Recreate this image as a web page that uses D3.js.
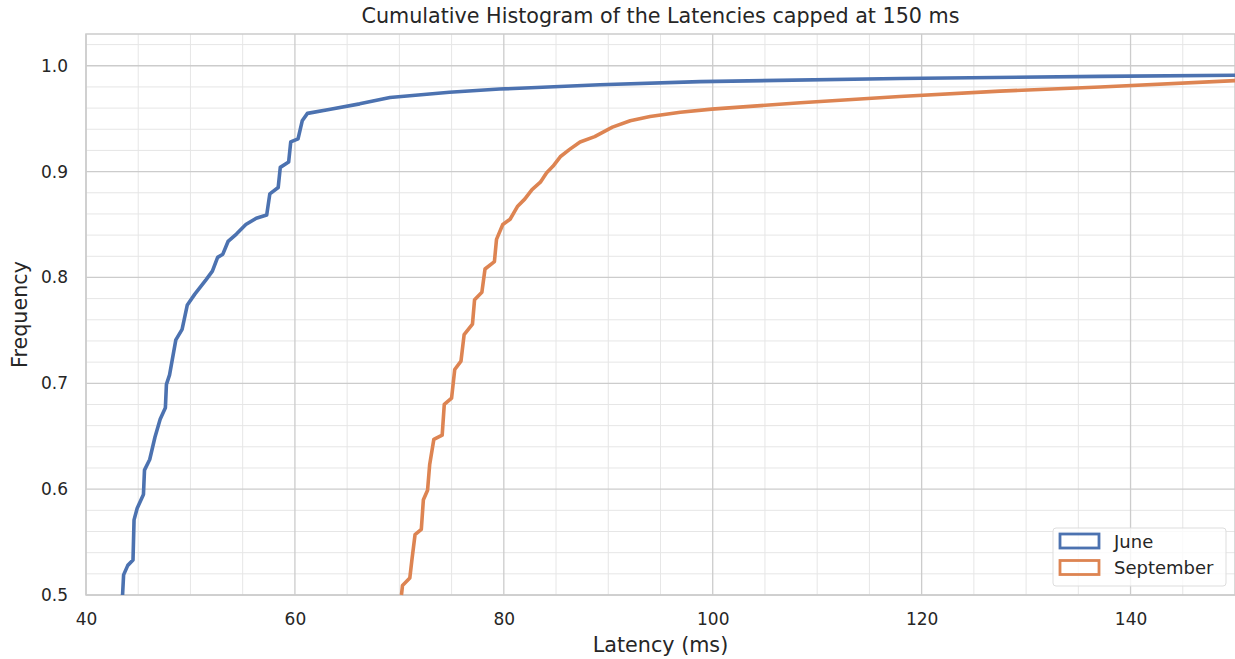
<!DOCTYPE html>
<html>
<head>
<meta charset="utf-8">
<script src="https://cdn.jsdelivr.net/npm/d3@7"></script>
<style>
  body { margin: 0; background: #fff; }
  text { font-family: "DejaVu Sans", sans-serif; fill: #262626; }
</style>
</head>
<body>
<div id="chart"></div>
<script>
// cumulative frequency, [latency ms, frequency]
var juneLatency = [43.5, 43.6, 44.0, 44.5, 44.6, 44.9, 45.5, 45.6, 46.1, 46.6, 47.1, 47.6, 47.7, 48.0, 48.6, 49.2, 49.7, 50.4, 51.5, 52.1, 52.6, 53.1, 53.6, 54.4, 55.3, 56.3, 57.3, 57.6, 58.4, 58.6, 59.4, 59.6, 60.3, 60.7, 61.2, 63.4, 66.2, 69.1, 74.8, 79.6, 89.2, 98.8, 117.9, 137.1, 150];
var juneFreq = [0.500, 0.519, 0.528, 0.533, 0.571, 0.582, 0.595, 0.618, 0.628, 0.649, 0.666, 0.677, 0.699, 0.708, 0.741, 0.751, 0.774, 0.784, 0.798, 0.806, 0.819, 0.822, 0.834, 0.841, 0.850, 0.856, 0.859, 0.879, 0.885, 0.904, 0.909, 0.928, 0.931, 0.948, 0.955, 0.959, 0.964, 0.970, 0.975, 0.978, 0.982, 0.985, 0.988, 0.990, 0.991];

var septLatency = [70.2, 70.3, 71.0, 71.2, 71.5, 72.1, 72.3, 72.7, 72.9, 73.3, 74.1, 74.3, 75.0, 75.3, 75.9, 76.2, 77.0, 77.2, 77.9, 78.2, 79.1, 79.3, 79.9, 80.6, 81.3, 82.0, 82.7, 83.5, 84.1, 84.7, 85.4, 86.3, 87.3, 88.7, 90.4, 92.1, 94.0, 96.9, 99.9, 108.4, 117.9, 127.5, 137.1, 150];
var septFreq = [0.500, 0.509, 0.516, 0.533, 0.557, 0.562, 0.590, 0.599, 0.623, 0.647, 0.651, 0.680, 0.686, 0.713, 0.721, 0.746, 0.756, 0.779, 0.786, 0.808, 0.815, 0.836, 0.850, 0.855, 0.867, 0.874, 0.883, 0.890, 0.899, 0.905, 0.914, 0.921, 0.928, 0.933, 0.942, 0.948, 0.952, 0.956, 0.959, 0.965, 0.971, 0.976, 0.980, 0.986];

var seriesNames = ["June", "September"];
var seriesColors = ["#4c72b0", "#dd8452"];
var xTicks = [40, 60, 80, 100, 120, 140];
var yTicks = [0.5, 0.6, 0.7, 0.8, 0.9, 1.0];

var width = 1235, height = 659;
var margin = { top: 34, right: 0, bottom: 64, left: 86 };

var svg = d3.select("#chart").append("svg")
    .attr("width", width)
    .attr("height", height);

var x = d3.scaleLinear().domain([40, 150]).range([margin.left, width - margin.right]);
var y = d3.scaleLinear().domain([0.5, 1.03]).range([height - margin.bottom, margin.top]);

var grid = svg.append("g");

// minor grid
grid.selectAll("line.xminor")
    .data(d3.range(45, 150, 5).filter(function (d) { return d % 20 != 0; }))
    .enter().append("line")
    .attr("x1", function (d) { return x(d); })
    .attr("x2", function (d) { return x(d); })
    .attr("y1", y(0.5)).attr("y2", y(1.03))
    .style("stroke", "#e6e6e6").style("stroke-width", "1px");

grid.selectAll("line.yminor")
    .data(d3.range(0.52, 1.03, 0.02).filter(function (d) { return Math.abs(d * 10 - Math.round(d * 10)) > 0.01; }))
    .enter().append("line")
    .attr("x1", x(40)).attr("x2", x(150))
    .attr("y1", function (d) { return y(d); })
    .attr("y2", function (d) { return y(d); })
    .style("stroke", "#e6e6e6").style("stroke-width", "1px");

// major grid
grid.selectAll("line.xmajor")
    .data(xTicks)
    .enter().append("line")
    .attr("x1", function (d) { return x(d); })
    .attr("x2", function (d) { return x(d); })
    .attr("y1", y(0.5)).attr("y2", y(1.03))
    .style("stroke", "#cccccc").style("stroke-width", "1.3px");

grid.selectAll("line.ymajor")
    .data(yTicks)
    .enter().append("line")
    .attr("x1", x(40)).attr("x2", x(150))
    .attr("y1", function (d) { return y(d); })
    .attr("y2", function (d) { return y(d); })
    .style("stroke", "#cccccc").style("stroke-width", "1.3px");

// spines
svg.append("rect")
    .attr("x", x(40)).attr("y", y(1.03))
    .attr("width", x(150) - x(40)).attr("height", y(0.5) - y(1.03))
    .style("fill", "none").style("stroke", "#cccccc").style("stroke-width", "1.5px");

// axes, tick marks hidden
var xAxis = svg.append("g")
    .attr("transform", "translate(0," + y(0.5) + ")")
    .call(d3.axisBottom(x).tickValues(xTicks).tickSize(0).tickPadding(18).tickFormat(d3.format("d")));
var yAxis = svg.append("g")
    .attr("transform", "translate(" + x(40) + ",0)")
    .call(d3.axisLeft(y).tickValues(yTicks).tickSize(0).tickPadding(18).tickFormat(d3.format(".1f")));
[xAxis, yAxis].forEach(function (a) {
    a.select(".domain").remove();
    a.selectAll("text").style("font-size", "17px").style("font-family", "DejaVu Sans").style("fill", "#262626");
});

// the two curves
var line = d3.line()
    .x(function (d) { return x(d[0]); })
    .y(function (d) { return y(d[1]); });

var series = [
    d3.zip(juneLatency, juneFreq),
    d3.zip(septLatency, septFreq)
];

svg.append("g").selectAll("path")
    .data(series)
    .enter().append("path")
    .attr("d", line)
    .style("fill", "none")
    .style("stroke", function (d, i) { return seriesColors[i]; })
    .style("stroke-width", "3.6px")
    .style("stroke-linejoin", "round");

// labels
svg.append("text")
    .attr("x", (x(40) + x(150)) / 2).attr("y", 23)
    .attr("text-anchor", "middle")
    .style("font-size", "20.7px")
    .text("Cumulative Histogram of the Latencies capped at 150 ms");

svg.append("text")
    .attr("x", (x(40) + x(150)) / 2).attr("y", 652)
    .attr("text-anchor", "middle")
    .style("font-size", "20.7px")
    .text("Latency (ms)");

svg.append("text")
    .attr("transform", "translate(27," + (y(0.5) + y(1.03)) / 2 + ") rotate(-90)")
    .attr("text-anchor", "middle")
    .style("font-size", "20.7px")
    .text("Frequency");

// legend
var legend = svg.append("g").attr("transform", "translate(1053,528)");
legend.append("rect")
    .attr("width", 173).attr("height", 58).attr("rx", 3)
    .style("fill", "#fff").style("fill-opacity", 0.8)
    .style("stroke", "#dddddd").style("stroke-width", "1px");

var item = legend.selectAll("g.item")
    .data(seriesNames)
    .enter().append("g")
    .attr("transform", function (d, i) { return "translate(0," + (i * 26.5) + ")"; });
item.append("rect")
    .attr("x", 7).attr("y", 6).attr("width", 39).attr("height", 14)
    .style("fill", "none")
    .style("stroke", function (d, i) { return seriesColors[i]; })
    .style("stroke-width", "2.8px");
item.append("text")
    .attr("x", 61).attr("y", 19.5)
    .style("font-size", "18px")
    .text(function (d) { return d; });
</script>
</body>
</html>
